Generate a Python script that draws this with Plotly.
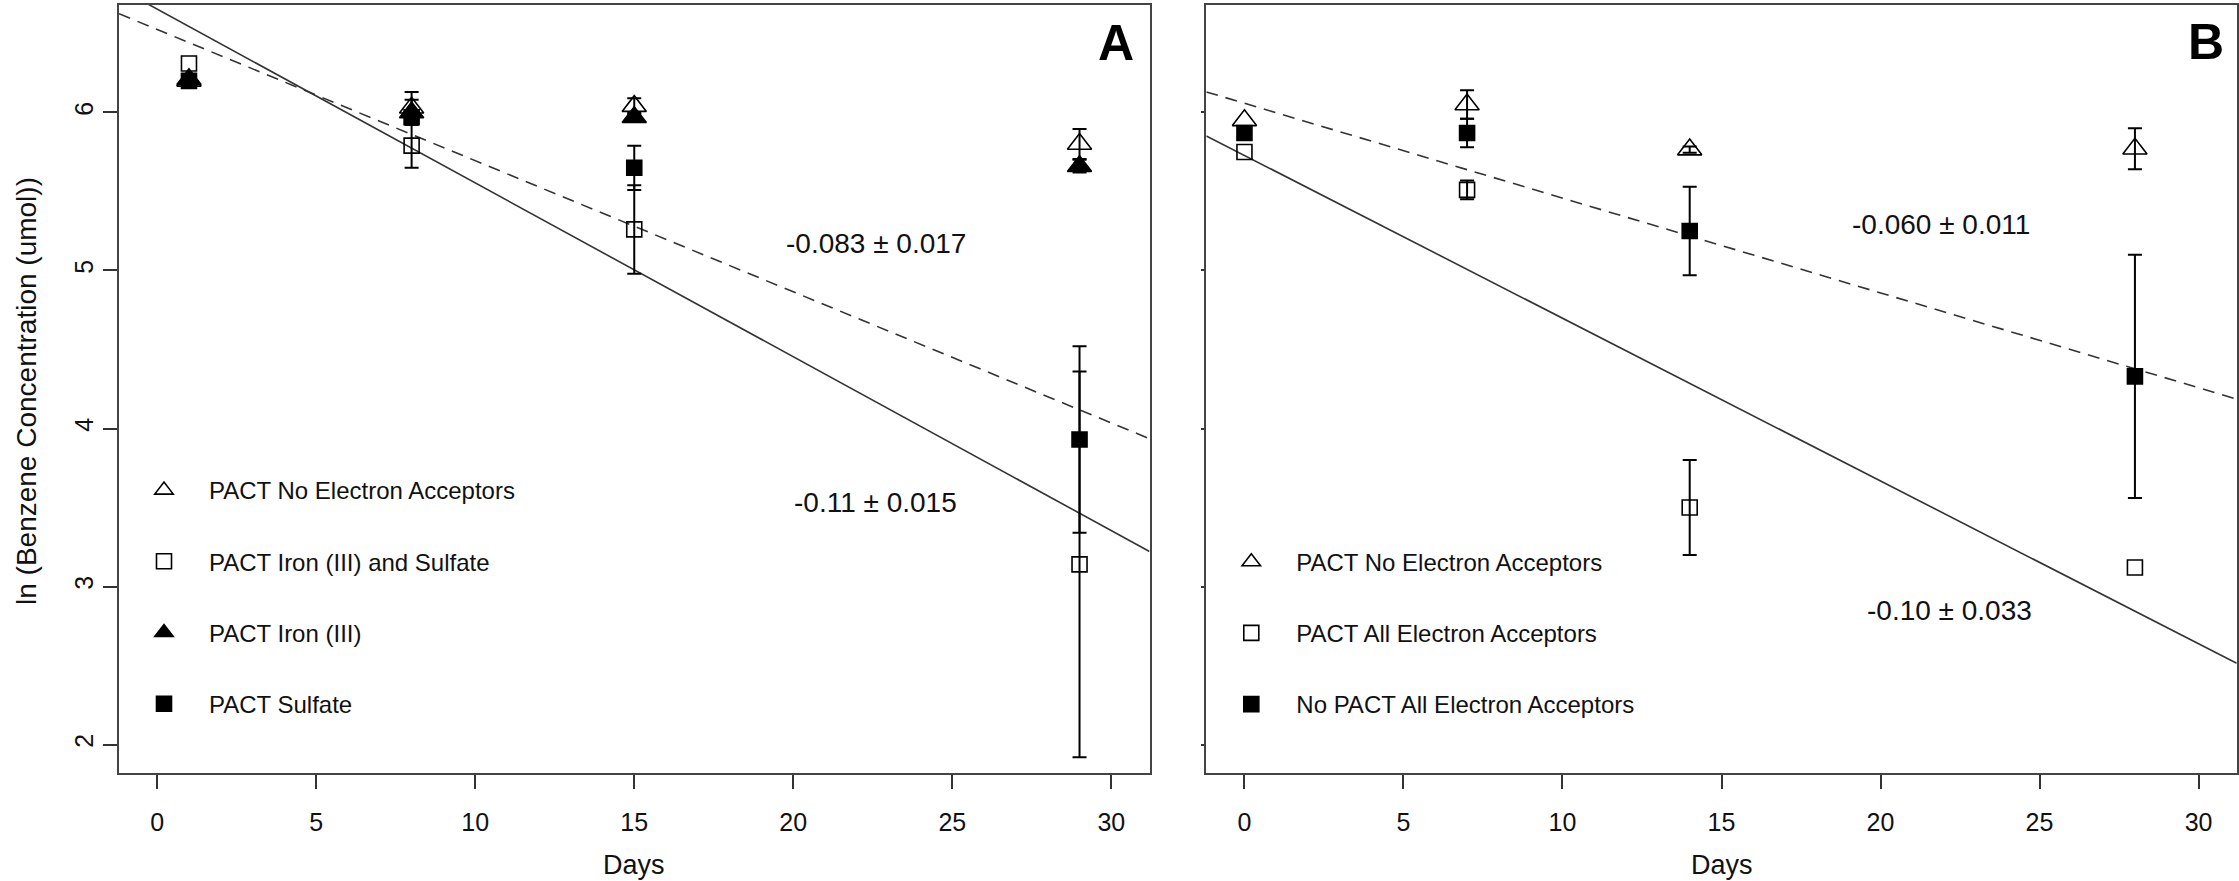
import plotly.graph_objects as go

FONT = "Liberation Sans, Arial, Helvetica, sans-serif"
W, H = 2239, 881

# ---------------- data: panel A ----------------
days_a = [1, 8, 15, 29]
names_a = ["PACT No Electron Acceptors", "PACT Iron (III) and Sulfate",
           "PACT Iron (III)", "PACT Sulfate"]
a_no_ea = [6.20, 6.03, 6.04, 5.80]
a_no_ea_err = [0.02, 0.10, 0.05, 0.095]
a_fe_so4 = [6.31, 5.79, 5.26, 3.14]
a_fe_so4_err = [None, 0.14, 0.28, 1.22]
a_fe = [6.21, 6.00, 5.97, 5.66]
a_fe_err = [0.03, 0.08, 0.03, 0.04]
a_so4 = [6.20, 5.97, 5.65, 3.93]
a_so4_err = [0.02, 0.03, 0.14, 0.59]
fit_a_intercept = [6.525, 6.654]
fit_a_slope = [-0.083, -0.110]
fit_a_dash = ["dash", "solid"]
label_a = ["-0.083 \u00b1 0.017", "-0.11 \u00b1 0.015"]

# ---------------- data: panel B ----------------
days_b = [0, 7, 14, 28]
names_b = ["PACT No Electron Acceptors", "PACT All Electron Acceptors",
           "No PACT All Electron Acceptors"]
b_no_ea = [5.95, 6.05, 5.765, 5.77]
b_no_ea_err = [None, 0.09, 0.02, 0.13]
b_all_ea = [5.75, 5.51, 3.50, 3.12]
b_all_ea_err = [None, 0.06, 0.30, None]
b_nopact = [5.87, 5.87, 5.25, 4.33]
b_nopact_err = [None, 0.09, 0.28, 0.77]
fit_b_intercept = [6.058, 5.728]
fit_b_slope = [-0.060, -0.103]
fit_b_dash = ["dash", "solid"]
label_b = ["-0.060 \u00b1 0.011", "-0.10 \u00b1 0.033"]

x_ticks = [0, 5, 10, 15, 20, 25, 30]
y_ticks = [2, 3, 4, 5, 6]
X_RANGE = [-1.2, 31.2]
Y_RANGE = [1.82, 6.68]

# ---------------- layout geometry (pixels) ----------------
A_L, A_R = 119, 1149.5
B_L, B_R = 1206.3, 2236.7
P_T, P_B = 5, 773

fig = go.Figure()


def add_series(x, y, err, name, symbol, size, xa, ya, legend):
    ex = [xi for xi, e in zip(x, err) if e is not None]
    ey = [yi for yi, e in zip(y, err) if e is not None]
    ee = [e for e in err if e is not None]
    if ex:
        fig.add_trace(go.Scatter(
            x=ex, y=ey, mode="markers", xaxis=xa, yaxis=ya,
            marker=dict(size=2, opacity=0, color="black"),
            error_y=dict(type="data", array=ee, visible=True, color="black",
                         thickness=2, width=7),
            showlegend=False, hoverinfo="skip"))
    fig.add_trace(go.Scatter(
        x=x, y=y, mode="markers", xaxis=xa, yaxis=ya, name=name,
        legend=legend, legendgroup=legend + name,
        marker=dict(symbol=symbol, size=size, color="black",
                    line=dict(color="black", width=1.6)),
        showlegend=True))


def add_fits(intercepts, slopes, dashes, xa, ya):
    for b0, b1, d in zip(intercepts, slopes, dashes):
        xs = [X_RANGE[0], X_RANGE[1]]
        ys = [b0 + b1 * xv for xv in xs]
        fig.add_trace(go.Scatter(
            x=xs, y=ys, mode="lines", xaxis=xa, yaxis=ya,
            line=dict(color="#333333", width=1.6,
                      dash="12px,8px" if d == "dash" else "solid"),
            showlegend=False, hoverinfo="skip"))


# Panel A
add_fits(fit_a_intercept, fit_a_slope, fit_a_dash, "x", "y")
add_series(days_a, a_no_ea, a_no_ea_err, names_a[0], "triangle-up-open", 21, "x", "y", "legend")
add_series(days_a, a_fe_so4, a_fe_so4_err, names_a[1], "square-open", 15, "x", "y", "legend")
add_series(days_a, a_fe, a_fe_err, names_a[2], "triangle-up", 21, "x", "y", "legend")
add_series(days_a, a_so4, a_so4_err, names_a[3], "square", 15, "x", "y", "legend")

# Panel B
add_fits(fit_b_intercept, fit_b_slope, fit_b_dash, "x2", "y2")
add_series(days_b, b_no_ea, b_no_ea_err, names_b[0], "triangle-up-open", 21, "x2", "y2", "legend2")
add_series(days_b, b_all_ea, b_all_ea_err, names_b[1], "square-open", 15, "x2", "y2", "legend2")
add_series(days_b, b_nopact, b_nopact_err, names_b[2], "square", 15, "x2", "y2", "legend2")

axis_common = dict(range=X_RANGE, tickvals=x_ticks, ticks="outside", ticklen=14,
                   tickwidth=2, tickcolor="#333333", showline=True, linewidth=2,
                   linecolor="#444444", mirror=True, showgrid=False, zeroline=False,
                   tickfont=dict(family=FONT, size=25, color="#111111"),
                   ticklabelstandoff=12, fixedrange=True)
yaxis_common = dict(range=Y_RANGE, tickvals=y_ticks, showline=True, linewidth=2,
                    linecolor="#444444", mirror=True, showgrid=False, zeroline=False,
                    tickwidth=2, tickcolor="#333333", fixedrange=True)

fig.update_layout(
    width=W, height=H,
    margin=dict(l=0, r=0, t=0, b=0),
    paper_bgcolor="white", plot_bgcolor="white",
    font=dict(family=FONT, color="black"),
    xaxis=dict(domain=[A_L / W, A_R / W], anchor="y", **axis_common),
    xaxis2=dict(domain=[B_L / W, B_R / W], anchor="y2", **axis_common),
    yaxis=dict(domain=[1 - P_B / H, 1 - P_T / H], anchor="x", ticks="outside",
               ticklen=14, tickangle=-90,
               tickfont=dict(family=FONT, size=25, color="#111111"),
               ticklabelstandoff=0, **yaxis_common),
    yaxis2=dict(domain=[1 - P_B / H, 1 - P_T / H], anchor="x2", ticks="outside",
                ticklen=3, showticklabels=False, **yaxis_common),
    legend=dict(x=A_L / W, y=1 - 468 / H, xanchor="left", yanchor="top",
                bgcolor="rgba(0,0,0,0)", borderwidth=0, itemwidth=80,
                tracegroupgap=37, font=dict(family=FONT, size=24, color="#111111")),
    legend2=dict(x=B_L / W, y=1 - 539.6 / H, xanchor="left", yanchor="top",
                 bgcolor="rgba(0,0,0,0)", borderwidth=0, itemwidth=80,
                 tracegroupgap=37, font=dict(family=FONT, size=24, color="#111111")),
)

ann = []
lab_font = dict(family=FONT, size=28, color="#111111")
# slope labels
ann.append(dict(x=22.6, y=5.17, xref="x", yref="y", text=label_a[0], font=lab_font))
ann.append(dict(x=22.6, y=3.53, xref="x", yref="y", text=label_a[1], font=lab_font))
ann.append(dict(x=21.9, y=5.29, xref="x2", yref="y2", text=label_b[0], font=lab_font))
ann.append(dict(x=22.17, y=2.85, xref="x2", yref="y2", text=label_b[1], font=lab_font))
# panel letters
ann.append(dict(x=30.15, y=6.44, xref="x", yref="y", text="<b>A</b>",
                font=dict(family=FONT, size=50, color="black")))
ann.append(dict(x=30.24, y=6.445, xref="x2", yref="y2", text="<b>B</b>",
                font=dict(family=FONT, size=50, color="black")))
# axis titles
title_font = dict(family=FONT, size=27, color="#111111")
ann.append(dict(x=634 / W, y=1 - 865 / H, xref="paper", yref="paper", text="Days",
                font=title_font))
ann.append(dict(x=1721.5 / W, y=1 - 865 / H, xref="paper", yref="paper", text="Days",
                font=title_font))
ann.append(dict(x=27 / W, y=1 - 391 / H, xref="paper", yref="paper",
                text="ln (Benzene Concentration (umol))", textangle=-90,
                font=dict(family=FONT, size=28, color="#111111")))
for a in ann:
    a.update(showarrow=False, xanchor="center", yanchor="middle")
fig.update_layout(annotations=ann)

fig.write_html("out.html")
